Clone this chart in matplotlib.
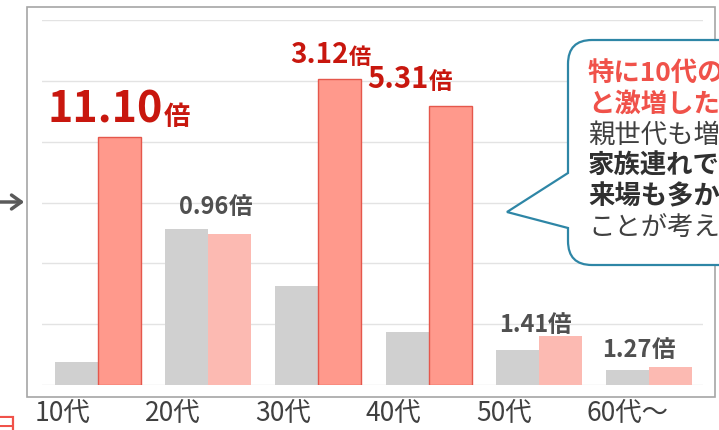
import matplotlib
matplotlib.use('Agg')
import matplotlib.pyplot as plt
from matplotlib.path import Path
from matplotlib.patches import PathPatch, Rectangle, FancyArrowPatch
import numpy as np

plt.rcParams['font.family'] = ['Noto Sans CJK JP', 'DejaVu Sans']

# data (grid units)
ages = ['10代', '20代', '30代', '40代', '50代', '60代～']
before = [0.38, 2.57, 1.62, 0.87, 0.57, 0.25]
after = [4.07, 2.48, 5.03, 4.59, 0.80, 0.30]
ratios = ['11.10', '0.96', '3.12', '5.31', '1.41', '1.27']
highlight = [True, False, True, True, False, False]

callout_lines = ['特に10代の来', 'と激増した。ま', '親世代も増加',
                 '家族連れでの', '来場も多かった', 'ことが考えられる']

# label layout (pixels)
lab_dx = [-50, -29, -28, -61, -40, -47]
lab_dy = [15, 15, 16, 18, 4, 10]
num_size = [31, 17, 20, 21, 17, 17]
bai_size = [19, 17, 16, 17, 17, 17]

W, H = 719, 430
fig = plt.figure(figsize=(W / 100, H / 100), dpi=100)


def fx(x):
    return x / W


def fy(y):
    return 1 - y / H


# outer frame
fig.patches.append(Rectangle((fx(27), fy(397)), (715 - 27) / W, (397 - 7) / H,
                             transform=fig.transFigure, fill=False,
                             edgecolor='#A6A6A6', linewidth=1.2, zorder=0))

ax = fig.add_axes([fx(42), fy(385), (703 - 42) / W, (385 - 20) / H])
ax.patch.set_alpha(0)
x = np.arange(len(ages))
w = 0.39
ax.bar(x - w / 2, before, w, color='#D0D0D0', zorder=2)
ax.bar(x + w / 2, after, w,
       color=['#FF998C' if h else '#FCBAB2' for h in highlight],
       edgecolor=['#E5574C' if h else '#FCBAB2' for h in highlight],
       linewidth=[1 if h else 0 for h in highlight], zorder=2)
ax.set_xlim(-0.508, 5.49)
ax.set_ylim(0, 6)
ax.set_yticks(range(7))
ax.yaxis.grid(True, color='#E3E3E3', linewidth=1)
ax.set_axisbelow(True)
ax.tick_params(left=False, labelleft=False, bottom=False, labelbottom=False)
for s in ax.spines.values():
    s.set_visible(False)

for i, lab in enumerate(ages):
    ax.annotate(lab, xy=(i, 0), xycoords=ax.get_xaxis_transform(),
                xytext=(-63, -36), textcoords='offset pixels',
                ha='left', va='baseline', fontsize=19, color='#404040',
                annotation_clip=False)

for i, r in enumerate(ratios):
    col = '#C8170E' if highlight[i] else '#505050'
    top = max(before[i], after[i])
    t = ax.annotate(r, xy=(i, top), xytext=(lab_dx[i], lab_dy[i]),
                    textcoords='offset pixels', ha='left', va='baseline',
                    fontsize=num_size[i], fontweight='bold', color=col,
                    annotation_clip=False)
    ax.annotate('倍', xy=(1, 0), xycoords=t, ha='left', va='bottom',
                fontsize=bai_size[i], fontweight='bold', color=col,
                annotation_clip=False)

# callout bubble
L, T, B, R, rad = 568, 40, 265, 780, 24
pts = [(L, 173), (L, T + rad), (L, T), (L + rad, T), (R, T), (R, B),
       (L + rad, B), (L, B), (L, B - rad), (L, 228), (507, 212), (L, 173)]
codes = [Path.MOVETO, Path.LINETO, Path.CURVE3, Path.CURVE3, Path.LINETO,
         Path.LINETO, Path.LINETO, Path.CURVE3, Path.CURVE3, Path.LINETO,
         Path.LINETO, Path.CLOSEPOLY]
verts = [(fx(px), fy(py)) for px, py in pts]
fig.patches.append(PathPatch(Path(verts, codes), transform=fig.transFigure,
                             facecolor='white', edgecolor='#2E86A6',
                             linewidth=1.6, zorder=5))

styles = [('#F0524A', 'bold'), ('#F0524A', 'bold'), ('#404040', 'normal'),
          ('#303030', 'bold'), ('#303030', 'bold'), ('#404040', 'normal')]
for k, line in enumerate(callout_lines):
    c, wt = styles[k]
    fig.text(fx(588), fy(73 + 31 * k), line, ha='left', va='center',
             fontsize=19, color=c, fontweight=wt, zorder=6)

# arrow on the left and clipped character at bottom-left
fig.patches.append(FancyArrowPatch(
    (fx(-4), fy(202)), (fx(27), fy(202)), transform=fig.transFigure,
    arrowstyle='->,head_length=7,head_width=5', color='#5A5A5A',
    linewidth=2.5, mutation_scale=1))
fig.text(fx(-10), fy(414), '日', ha='left', va='top', fontsize=20,
         color='#F0524A')

fig.savefig('out.png', dpi=100)
